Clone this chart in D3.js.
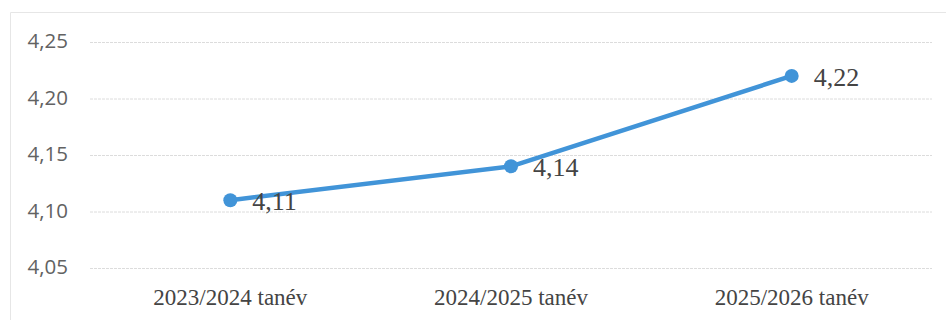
<!DOCTYPE html>
<html>
<head>
<meta charset="utf-8">
<script src="https://cdn.jsdelivr.net/npm/d3@7"></script>
<style>
  body { margin: 0; background: #fff; }
</style>
</head>
<body>
<div id="grafico"></div>
<script>
// Datos
const categorias = ["2023/2024 tanév", "2024/2025 tanév", "2025/2026 tanév"];
const valores = [4.11, 4.14, 4.22];
const ticksY = [4.05, 4.10, 4.15, 4.20, 4.25];

// Dimensiones
const width = 946;
const height = 320;
const margin = { top: 42, right: 14, bottom: 52, left: 90 };

const svg = d3.select("#grafico")
    .append("svg")
    .attr("width", width)
    .attr("height", height);

// marco
svg.append("path")
    .attr("d", `M10.5,${height} V12.5 H${width}`)
    .attr("fill", "none")
    .attr("stroke", "#e6e6e6")
    .attr("stroke-width", 1);

// Escalas
const xScale = d3.scaleBand()
    .domain(categorias)
    .range([margin.left, width - margin.right]);

const yScale = d3.scaleLinear()
    .domain([4.05, 4.25])
    .range([height - margin.bottom, margin.top]);

const coma = d => d3.format(".2f")(d).replace(".", ",");

// Eje Y + grilla
const yAxis = d3.axisLeft(yScale)
    .tickValues(ticksY)
    .tickSize(-(width - margin.left - margin.right))
    .tickPadding(22)
    .tickFormat(coma);

const gy = svg.append("g")
    .attr("transform", `translate(${margin.left},0)`)
    .call(yAxis);
gy.select(".domain").remove();
gy.selectAll(".tick line")
    .attr("stroke", "#dcdcdc")
    .attr("stroke-width", 1)
    .attr("stroke-dasharray", "3,1");
gy.selectAll(".tick text")
    .attr("fill", "#626262")
    .attr("dy", "0.28em")
    .style("font-family", "'Open Sans', 'Noto Sans', sans-serif")
    .style("font-size", "20.5px");

// Eje X
const xAxis = d3.axisBottom(xScale).tickSize(0).tickPadding(21);
const gx = svg.append("g")
    .attr("transform", `translate(0,${height - margin.bottom})`)
    .call(xAxis);
gx.select(".domain").remove();
gx.selectAll(".tick text")
    .attr("fill", "#444")
    .style("font-family", "'Liberation Serif', 'DejaVu Serif', serif")
    .style("font-size", "23px");

// Linea
const cx = (d, i) => xScale(categorias[i]) + xScale.bandwidth() / 2;
const linea = d3.line()
    .x(cx)
    .y(d => yScale(d));

svg.append("path")
    .datum(valores)
    .attr("d", linea)
    .attr("fill", "none")
    .attr("stroke", "#4194d8")
    .attr("stroke-width", 4.5)
    .attr("stroke-linejoin", "round");

svg.selectAll(".punto")
    .data(valores)
    .enter()
    .append("circle")
    .attr("class", "punto")
    .attr("cx", cx)
    .attr("cy", d => yScale(d))
    .attr("r", 7)
    .attr("fill", "#4194d8");

svg.selectAll(".etiqueta")
    .data(valores)
    .enter()
    .append("text")
    .attr("class", "etiqueta")
    .attr("x", (d, i) => cx(d, i) + 22)
    .attr("y", d => yScale(d) + 10)
    .text(coma)
    .attr("fill", "#444")
    .style("font-family", "'Liberation Serif', 'DejaVu Serif', serif")
    .style("font-size", "26px");
</script>
</body>
</html>
